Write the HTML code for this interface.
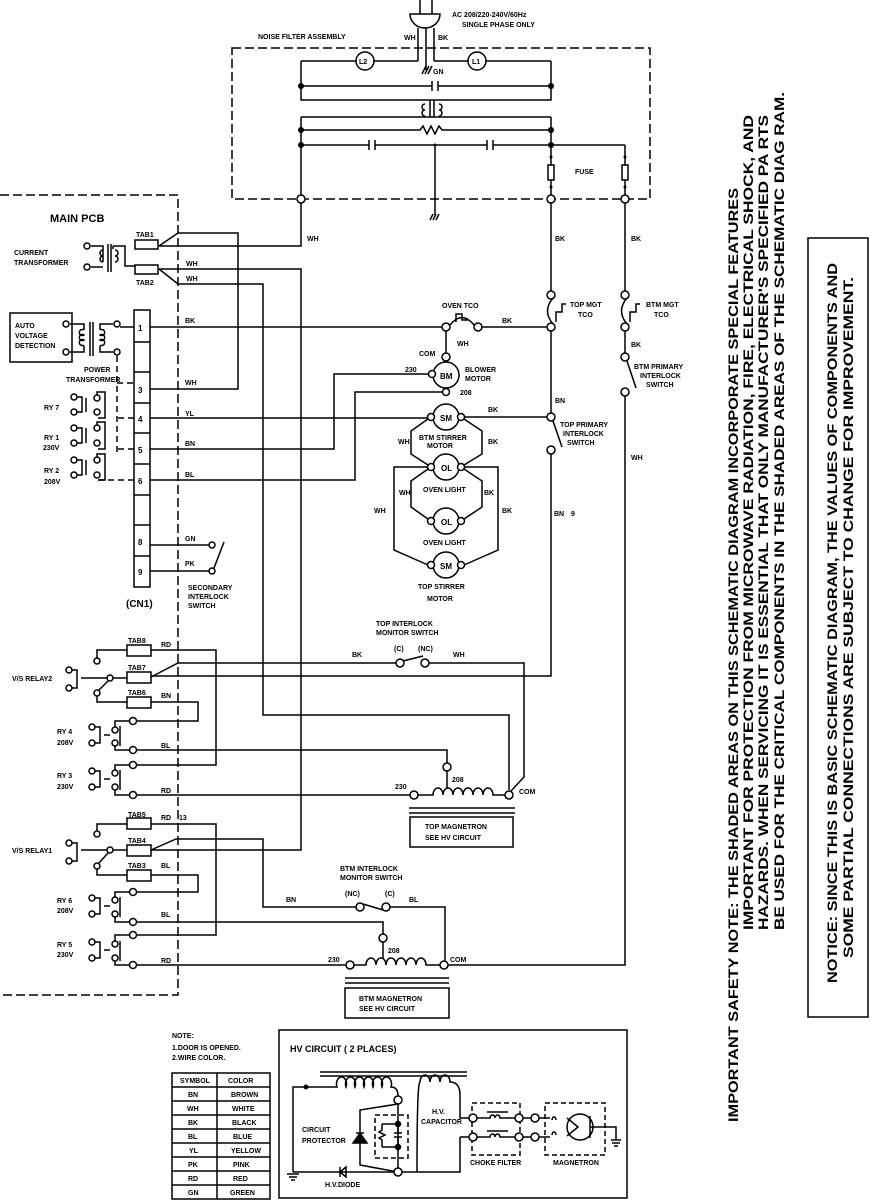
<!DOCTYPE html>
<html><head><meta charset="utf-8"><style>
html,body{margin:0;padding:0;background:#fff}
svg{display:block}
text{font-family:"Liberation Sans Narrow","Liberation Sans",sans-serif;font-weight:bold;fill:#000}
.s{font-size:7px}
.m{font-size:8px}
</style></head><body>
<svg width="870" height="1200" viewBox="0 0 870 1200" xmlns="http://www.w3.org/2000/svg">
<g fill="none" stroke="#000" stroke-width="1.5">
<rect x="232" y="48" width="418" height="151" stroke-dasharray="9,4" stroke-width="1.5"/>
<path d="M0,195 H178 V995 H0" stroke-dasharray="9,4" stroke-width="1.5"/>
<path d="M410,14 A15,14 0 0 0 440,14 Z" fill="#fff"/>
<path d="M420,0 V14 M432,0 V14 M418,28 V61 M434,28 V61 M426,28 V70"/>
<path d="M422,74 l4,-8 M425,74 l4,-8 M428,74 l4,-8"/>
<path d="M301,61 H356 M374,61 H418 M434,61 H468 M486,61 H551 M301,61 V100 H551 V61"/>
<circle cx="365" cy="61" r="9" fill="#fff"/><circle cx="477" cy="61" r="9" fill="#fff"/>
<path d="M301,86 H432 M438,86 H551 M432,81 V91 M438,81 V91"/>
<path d="M301,117 H551 M301,117 V199 M551,117 V199 M430,100 V117 M434,100 V117"/>
<path d="M425,104 a3,3 0 1 0 0,6 a3,3 0 1 0 0,6 M439,104 a3,3 0 1 1 0,6 a3,3 0 1 1 0,6"/>
<path d="M301,130 H420 l3,-4 l4,8 l4,-8 l4,8 l4,-8 l3,4 H551"/>
<path d="M301,145 H369 M375,145 H487 M493,145 H625 M369,140 V150 M375,140 V150 M487,140 V150 M493,140 V150"/>
<path d="M435,145 V215 M430,220 l3,-6 M433,220 l3,-6 M436,220 l3,-6"/>
<path d="M625,145 V199"/>
<rect x="548" y="165" width="6" height="15" fill="#fff"/><rect x="622" y="165" width="6" height="15" fill="#fff"/>
<circle cx="301" cy="199" r="4" fill="#fff"/><circle cx="551" cy="199" r="4" fill="#fff"/><circle cx="625" cy="199" r="4" fill="#fff"/>
<path d="M301,203 V246 H159 M159,246 L178,233 H238 V389 H150"/>
<path d="M159,269 H301 V850 H151 M159,269 L178,284 H263 V715 H509 V790"/>
<rect x="135" y="240" width="23" height="9" fill="#fff"/><rect x="135" y="265" width="23" height="9" fill="#fff"/>
<path d="M91,246 H103 V262 M91,267 H103 M113,246 H125 V266 H135 M113,246 V249 M108,244 V272 M111,244 V272"/>
<path d="M103,250 a3,3 0 1 0 0,6 a3,3 0 1 0 0,6 M115,250 a3,3 0 1 1 0,6 a3,3 0 1 1 0,6"/>
<circle cx="87" cy="246" r="3" fill="#fff"/><circle cx="87" cy="267" r="3" fill="#fff"/>
<rect x="10" y="313" width="62" height="49" stroke-width="1.5"/>
<path d="M70,324 H84 V330 M70,352 H84 V346 M113,324 H100 V330 M113,352 H100 V346 M90,322 V356 M93,322 V356"/>
<path d="M84,330 a3,3 0 1 0 0,5 a3,3 0 1 0 0,5 a3,3 0 1 0 0,5 M100,330 a3,3 0 1 1 0,5 a3,3 0 1 1 0,5 a3,3 0 1 1 0,5"/>
<circle cx="66" cy="324" r="3" fill="#fff"/><circle cx="66" cy="352" r="3" fill="#fff"/>
<circle cx="117" cy="324" r="3" fill="#fff"/><circle cx="117" cy="352" r="3" fill="#fff"/>
<path d="M120,327 H134"/>
<path d="M117,356 V455 M117,383 H134 M118,418 H134 M118,449 H134 M98,480 H134" stroke-dasharray="6,4"/>
<rect x="134" y="310" width="16" height="277" fill="#fff"/>
<path d="M134,342 H150 M134,372 H150 M134,403 H150 M134,433 H150 M134,464 H150 M134,495 H150 M134,525 H150 M134,556 H150"/>
<g>
<circle cx="74" cy="397" r="3" fill="#fff"/><circle cx="74" cy="412" r="3" fill="#fff"/>
<path d="M77,397 H82 V412 H77 M86,398 V412"/><circle cx="97" cy="398" r="3" fill="#fff"/><circle cx="97" cy="412" r="3" fill="#fff"/>
<path d="M97,395 V392 H105 V418 H98"/>
<circle cx="74" cy="428" r="3" fill="#fff"/><circle cx="74" cy="443" r="3" fill="#fff"/>
<path d="M77,428 H82 V443 H77 M86,428 V443"/><circle cx="97" cy="428" r="3" fill="#fff"/><circle cx="97" cy="443" r="3" fill="#fff"/>
<path d="M97,425 V422 H105 V449 H98"/>
<circle cx="74" cy="460" r="3" fill="#fff"/><circle cx="74" cy="475" r="3" fill="#fff"/>
<path d="M77,460 H82 V475 H77 M86,460 V475"/><circle cx="97" cy="460" r="3" fill="#fff"/><circle cx="97" cy="475" r="3" fill="#fff"/>
<path d="M97,457 V454 H105 V480 H98"/>
</g>
<path d="M150,327 H442 M150,418 H433 M150,449 H334 V374 H432 M150,480 H355 V392 H442 M150,545 H209 M150,571 H209"/>
<circle cx="212" cy="545" r="3" fill="#fff"/><circle cx="212" cy="571" r="3" fill="#fff"/><path d="M214,568 L224,542"/>
<circle cx="446" cy="327" r="4" fill="#fff"/><circle cx="478" cy="327" r="4" fill="#fff"/>
<path d="M450,325 Q462,310 474,325 M456,322 V314 H462 V320 H468 M482,327 H551"/>
<path d="M446,331 V353"/>
<circle cx="446" cy="357" r="4" fill="#fff"/>
<circle cx="446" cy="375" r="13" fill="#fff"/>
<circle cx="432" cy="374" r="3.5" fill="#fff"/><circle cx="446" cy="392" r="3.5" fill="#fff"/>
<circle cx="446" cy="417" r="13" fill="#fff"/>
<circle cx="431" cy="417" r="3.5" fill="#fff"/><circle cx="461" cy="417" r="3.5" fill="#fff"/>
<path d="M464,417 H547"/>
<path d="M428,419 L411,431 V454 L428,465 M464,419 L482,431 V454 L464,465"/>
<circle cx="446" cy="467" r="13" fill="#fff"/>
<circle cx="431" cy="467" r="3.5" fill="#fff"/><circle cx="461" cy="467" r="3.5" fill="#fff"/>
<path d="M428,469 L411,481 V507 L428,519 M464,469 L482,481 V507 L464,519"/>
<circle cx="446" cy="521" r="13" fill="#fff"/>
<circle cx="431" cy="521" r="3.5" fill="#fff"/><circle cx="461" cy="521" r="3.5" fill="#fff"/>
<path d="M428,467 H394 V550 L428,565 M464,467 H498 V550 L464,565"/>
<circle cx="446" cy="565" r="13" fill="#fff"/>
<circle cx="431" cy="565" r="3.5" fill="#fff"/><circle cx="461" cy="565" r="3.5" fill="#fff"/>
<path d="M551,203 V291 M551,331 V413"/>
<circle cx="551" cy="295" r="4" fill="#fff"/><circle cx="551" cy="327" r="4" fill="#fff"/>
<path d="M553,298 Q542,311 553,324 M556,322 V312 H562 V304 H566"/>
<circle cx="551" cy="417" r="4" fill="#fff"/><circle cx="551" cy="450" r="4" fill="#fff"/>
<path d="M553,421 L562,447 M551,454 V676 H151"/>
<path d="M625,203 V291 M625,331 V353 M625,396 V965 H448"/>
<circle cx="625" cy="295" r="4" fill="#fff"/><circle cx="625" cy="327" r="4" fill="#fff"/>
<path d="M627,298 Q616,311 627,324 M630,322 V312 H636 V304 H640"/>
<circle cx="625" cy="357" r="4" fill="#fff"/><circle cx="625" cy="392" r="4" fill="#fff"/>
<path d="M627,361 L636,388"/>
<path d="M151,677 L178,663 H396 M429,663 H524 V777 L511,791"/>
<circle cx="400" cy="663" r="4" fill="#fff"/><circle cx="425" cy="663" r="4" fill="#fff"/><path d="M403,661 L423,656"/>
<rect x="127" y="645" width="24" height="11" fill="#fff"/>
<rect x="127" y="672" width="24" height="11" fill="#fff"/>
<rect x="127" y="697" width="24" height="11" fill="#fff"/>
<circle cx="69" cy="670" r="3" fill="#fff"/><circle cx="69" cy="688" r="3" fill="#fff"/>
<path d="M72,670 H77 V688 H72 M81,678 H107"/>
<circle cx="97" cy="661" r="3" fill="#fff"/><circle cx="110" cy="678" r="3" fill="#fff"/><circle cx="97" cy="693" r="3" fill="#fff"/>
<path d="M97,658 V650 H127 M113,678 H127 M108,681 L99,690 M97,696 V702 H127"/>
<path d="M151,650 H216 V765 H136 M151,702 H198 V721 H136"/>
<circle cx="92" cy="727" r="3" fill="#fff"/><circle cx="92" cy="743" r="3" fill="#fff"/><path d="M95,727 H100 V743 H95 M104,735 H110"/>
<circle cx="115" cy="730" r="3" fill="#fff"/><circle cx="115" cy="743" r="3" fill="#fff"/>
<path d="M115,727 V721 H130 M115,746 V750 H130 M120,726 V746"/>
<circle cx="133" cy="721" r="3.5" fill="#fff"/><circle cx="133" cy="750" r="3.5" fill="#fff"/>
<path d="M137,750 H447 V763"/>
<circle cx="92" cy="771" r="3" fill="#fff"/><circle cx="92" cy="787" r="3" fill="#fff"/><path d="M95,771 H100 V787 H95 M104,779 H110"/>
<circle cx="115" cy="773" r="3" fill="#fff"/><circle cx="115" cy="787" r="3" fill="#fff"/>
<path d="M115,770 V765 H130 M115,790 V795 H130 M120,770 V790"/>
<circle cx="133" cy="765" r="3.5" fill="#fff"/><circle cx="133" cy="795" r="3.5" fill="#fff"/>
<path d="M137,795 H410"/>
<circle cx="414" cy="795" r="4" fill="#fff"/><circle cx="447" cy="767" r="4" fill="#fff"/><circle cx="509" cy="795" r="4" fill="#fff"/>
<path d="M418,795 H433 a5,7 0 1 1 10,0 a5,7 0 1 1 10,0 a5,7 0 1 1 10,0 a5,7 0 1 1 10,0 a5,7 0 1 1 10,0 a5,7 0 1 1 10,0 H505 M447,771 V789"/>
<path d="M409,808 H515 M409,813 H515"/>
<rect x="410" y="817" width="103" height="30"/>
<rect x="127" y="818" width="24" height="11" fill="#fff"/>
<rect x="127" y="845" width="24" height="11" fill="#fff"/>
<rect x="127" y="870" width="24" height="11" fill="#fff"/>
<circle cx="69" cy="843" r="3" fill="#fff"/><circle cx="69" cy="861" r="3" fill="#fff"/>
<path d="M72,843 H77 V861 H72 M81,850 H107"/>
<circle cx="97" cy="834" r="3" fill="#fff"/><circle cx="110" cy="850" r="3" fill="#fff"/><circle cx="97" cy="866" r="3" fill="#fff"/>
<path d="M97,831 V824 H127 M113,850 H127 M108,853 L99,863 M97,869 V875 H127"/>
<path d="M151,824 H216 V935 H136 M151,875 H198 V892 H136"/>
<path d="M151,850 L176,839 H263 V907 H356 M390,907 H445 V961"/>
<circle cx="360" cy="907" r="4" fill="#fff"/><circle cx="386" cy="907" r="4" fill="#fff"/><path d="M363,904 L383,910"/>
<circle cx="92" cy="898" r="3" fill="#fff"/><circle cx="92" cy="914" r="3" fill="#fff"/><path d="M95,898 H100 V914 H95 M104,906 H110"/>
<circle cx="115" cy="900" r="3" fill="#fff"/><circle cx="115" cy="914" r="3" fill="#fff"/>
<path d="M115,897 V892 H130 M115,917 V922 H130 M120,897 V917"/>
<circle cx="133" cy="892" r="3.5" fill="#fff"/><circle cx="133" cy="922" r="3.5" fill="#fff"/>
<path d="M137,922 H383 V934"/>
<circle cx="92" cy="942" r="3" fill="#fff"/><circle cx="92" cy="958" r="3" fill="#fff"/><path d="M95,942 H100 V958 H95 M104,950 H110"/>
<circle cx="115" cy="944" r="3" fill="#fff"/><circle cx="115" cy="958" r="3" fill="#fff"/>
<path d="M115,941 V935 H130 M115,961 V965 H130 M120,941 V961"/>
<circle cx="133" cy="935" r="3.5" fill="#fff"/><circle cx="133" cy="965" r="3.5" fill="#fff"/>
<path d="M137,965 H346"/>
<circle cx="350" cy="965" r="4" fill="#fff"/><circle cx="383" cy="938" r="4" fill="#fff"/><circle cx="444" cy="965" r="4" fill="#fff"/>
<path d="M354,965 H366 a5,7 0 1 1 10,0 a5,7 0 1 1 10,0 a5,7 0 1 1 10,0 a5,7 0 1 1 10,0 a5,7 0 1 1 10,0 a5,7 0 1 1 10,0 H440 M383,942 V958"/>
<path d="M345,978 H449 M345,983 H449"/>
<rect x="345" y="988" width="104" height="30"/>
<rect x="172" y="1073" width="98" height="126"/>
<path d="M217,1073 V1199 M172,1087 H270 M172,1101 H270 M172,1115 H270 M172,1129 H270 M172,1143 H270 M172,1157 H270 M172,1171 H270 M172,1185 H270"/>
<rect x="279" y="1030" width="348" height="168" stroke-width="1.5"/>
<path d="M320,1072 H467 M320,1076 H467"/>
<path d="M293,1172 V1087 H337 a5,7 0 1 1 9,0 a5,7 0 1 1 9,0 a5,7 0 1 1 9,0 a5,7 0 1 1 9,0 a5,7 0 1 1 9,0 a5,7 0 1 1 9,0 Q398,1087 398,1096"/>
<circle cx="306" cy="1087" r="1.8" fill="#000"/>
<circle cx="398" cy="1100" r="4" fill="#fff"/>
<path d="M398,1104 V1168 M398,1104 L360,1110 V1165 L398,1172"/>
<path d="M356,1133 H364 M353,1143 L360,1133 L367,1143 Z" fill="#000"/>
<rect x="375" y="1115" width="33" height="43" stroke-dasharray="5,3"/>
<circle cx="398" cy="1124" r="2.5" fill="#000"/><circle cx="398" cy="1147" r="2.5" fill="#000"/>
<path d="M382,1124 H398 M382,1147 H398 M382,1124 V1130 l-3,2 l6,3 l-6,3 l3,2 V1147 M398,1124 V1133 M394,1133 H402 M394,1137 H402 M398,1137 V1147"/>
<circle cx="398" cy="1172" r="4" fill="#fff"/>
<path d="M293,1172 H394 M340,1167 V1177 M340,1172 L346,1167 V1177 Z"/>
<path d="M287,1174 H299 M289,1177 H297 M291,1180 H295"/>
<path d="M417,1172 Q417,1082 420,1082 a5,7 0 1 1 10,0 a5,7 0 1 1 10,0 a5,7 0 1 1 10,0 Q460,1082 460,1095 V1118 H469 M460,1137 H469 M460,1137 V1172 H402"/>
<rect x="472" y="1103" width="48" height="52" stroke-dasharray="5,3"/>
<circle cx="473" cy="1118" r="4" fill="#fff"/><circle cx="473" cy="1137" r="4" fill="#fff"/>
<circle cx="519" cy="1118" r="4" fill="#fff"/><circle cx="519" cy="1137" r="4" fill="#fff"/>
<path d="M477,1118 H490 a2.5,3 0 1 1 5,0 a2.5,3 0 1 1 5,0 H515 M477,1137 H490 a2.5,3 0 1 1 5,0 a2.5,3 0 1 1 5,0 H515 M487,1112 H508 M487,1131 H508"/>
<path d="M523,1118 H531 M523,1137 H531"/>
<rect x="545" y="1103" width="60" height="52" stroke-dasharray="5,3"/>
<circle cx="535" cy="1118" r="4" fill="#fff"/><circle cx="535" cy="1137" r="4" fill="#fff"/>
<path d="M539,1118 H550 M539,1137 H550 M552,1120 a2,3 0 1 1 4,0 M552,1135 a2,3 0 1 1 4,0"/>
<circle cx="580" cy="1127" r="13"/>
<path d="M567,1118 L578,1127 L567,1136 M590,1116 V1138 M590,1127 H616 V1140 M611,1140 H621 M612,1143 H620 M614,1146 H618"/>
<rect x="808" y="238" width="60" height="779" stroke-width="1.5"/>
</g>
<g fill="#000">
<circle cx="301" cy="86" r="3"/><circle cx="551" cy="86" r="3"/>
<circle cx="301" cy="130" r="3"/><circle cx="551" cy="130" r="3"/>
<circle cx="301" cy="145" r="3"/><circle cx="551" cy="145" r="3"/>
<circle cx="435" cy="145" r="1.5"/>
<circle cx="551" cy="157" r="1.5"/><circle cx="625" cy="157" r="1.5"/>
<circle cx="551" cy="187" r="1.5"/><circle cx="625" cy="187" r="1.5"/>
</g>
<g class="s">
<text x="452" y="17">AC 208/220-240V/60Hz</text>
<text x="462" y="27">SINGLE PHASE ONLY</text>
<text x="258" y="39">NOISE FILTER ASSEMBLY</text>
<text x="404" y="40">WH</text><text x="438" y="40">BK</text>
<text x="433" y="74">GN</text>
<text x="359" y="64">L2</text><text x="472" y="64">L1</text>
<text x="575" y="174">FUSE</text>
<text x="307" y="241">WH</text><text x="555" y="241">BK</text><text x="631" y="241">BK</text>
<text x="136" y="237">TAB1</text><text x="136" y="285">TAB2</text>
<text x="14" y="255">CURRENT</text><text x="14" y="265">TRANSFORMER</text>
<text x="186" y="266">WH</text><text x="186" y="281">WH</text>
<text x="15" y="328">AUTO</text><text x="15" y="338">VOLTAGE</text><text x="15" y="348">DETECTION</text>
<text x="84" y="372">POWER</text><text x="66" y="382">TRANSFORMER</text>
<text x="44" y="410">RY 7</text>
<text x="44" y="440">RY 1</text><text x="43" y="450">230V</text>
<text x="44" y="473">RY 2</text><text x="44" y="484">208V</text>
<text x="185" y="323">BK</text><text x="185" y="385">WH</text><text x="185" y="416">YL</text>
<text x="185" y="446">BN</text><text x="185" y="477">BL</text><text x="185" y="541">GN</text><text x="185" y="566">PK</text>
<text x="188" y="590">SECONDARY</text><text x="188" y="599">INTERLOCK</text><text x="188" y="608">SWITCH</text>
<text x="442" y="308">OVEN TCO</text>
<text x="502" y="323">BK</text>
<text x="457" y="346">WH</text>
<text x="419" y="356">COM</text>
<text x="405" y="372">230</text>
<text x="460" y="395">208</text>
<text x="465" y="372">BLOWER</text><text x="465" y="381">MOTOR</text>
<text x="488" y="412">BK</text>
<text x="398" y="444">WH</text><text x="488" y="444">BK</text>
<text x="419" y="440">BTM STIRRER</text><text x="427" y="448">MOTOR</text>
<text x="399" y="495">WH</text><text x="484" y="495">BK</text>
<text x="374" y="513">WH</text><text x="502" y="513">BK</text>
<text x="423" y="492">OVEN LIGHT</text><text x="423" y="545">OVEN LIGHT</text>
<text x="418" y="589">TOP STIRRER</text><text x="427" y="601">MOTOR</text>
<text x="570" y="307">TOP MGT</text><text x="578" y="317">TCO</text>
<text x="646" y="307">BTM MGT</text><text x="654" y="317">TCO</text>
<text x="634" y="369">BTM PRIMARY</text><text x="640" y="378">INTERLOCK</text><text x="646" y="387">SWITCH</text>
<text x="555" y="403">BN</text>
<text x="560" y="427">TOP PRIMARY</text><text x="563" y="436">INTERLOCK</text><text x="567" y="445">SWITCH</text>
<text x="554" y="516">BN</text><text x="571" y="516">9</text>
<text x="631" y="460">WH</text><text x="631" y="347">BK</text>
<text x="376" y="626">TOP INTERLOCK</text><text x="376" y="635">MONITOR SWITCH</text>
<text x="352" y="657">BK</text><text x="394" y="651">(C)</text><text x="418" y="651">(NC)</text><text x="453" y="657">WH</text>
<text x="128" y="643">TAB8</text><text x="128" y="670">TAB7</text><text x="128" y="695">TAB6</text>
<text x="161" y="647">RD</text><text x="161" y="698">BN</text><text x="161" y="748">BL</text><text x="161" y="793">RD</text>
<text x="12" y="681">V/S RELAY2</text>
<text x="57" y="734">RY 4</text><text x="57" y="745">208V</text>
<text x="57" y="778">RY 3</text><text x="57" y="789">230V</text>
<text x="395" y="789">230</text><text x="452" y="782">208</text><text x="519" y="794">COM</text>
<text x="425" y="829">TOP MAGNETRON</text><text x="425" y="840">SEE HV CIRCUIT</text>
<text x="128" y="817">TAB5</text><text x="128" y="843">TAB4</text><text x="128" y="868">TAB3</text>
<text x="161" y="820">RD</text><text x="179" y="820">13</text><text x="161" y="868">BL</text><text x="161" y="917">BL</text><text x="161" y="963">RD</text>
<text x="12" y="853">V/S RELAY1</text>
<text x="57" y="903">RY 6</text><text x="57" y="913">208V</text>
<text x="57" y="947">RY 5</text><text x="57" y="957">230V</text>
<text x="340" y="871">BTM INTERLOCK</text><text x="340" y="880">MONITOR SWITCH</text>
<text x="345" y="896">(NC)</text><text x="385" y="896">(C)</text><text x="286" y="902">BN</text><text x="409" y="902">BL</text>
<text x="328" y="962">230</text><text x="388" y="953">208</text><text x="450" y="962">COM</text>
<text x="359" y="1001">BTM MAGNETRON</text><text x="359" y="1011">SEE HV CIRCUIT</text>
<text x="172" y="1038">NOTE:</text><text x="172" y="1050">1.DOOR IS OPENED.</text><text x="172" y="1060">2.WIRE COLOR.</text>
<text x="180" y="1083">SYMBOL</text><text x="228" y="1083">COLOR</text>
<text x="188" y="1097">BN</text><text x="231" y="1097">BROWN</text>
<text x="187" y="1111">WH</text><text x="232" y="1111">WHITE</text>
<text x="188" y="1125">BK</text><text x="232" y="1125">BLACK</text>
<text x="188" y="1139">BL</text><text x="233" y="1139">BLUE</text>
<text x="189" y="1153">YL</text><text x="231" y="1153">YELLOW</text>
<text x="188" y="1167">PK</text><text x="233" y="1167">PINK</text>
<text x="188" y="1181">RD</text><text x="233" y="1181">RED</text>
<text x="188" y="1195">GN</text><text x="230" y="1195">GREEN</text>
<text x="302" y="1132">CIRCUIT</text><text x="302" y="1143">PROTECTOR</text>
<text x="432" y="1114">H.V.</text><text x="421" y="1124">CAPACITOR</text>
<text x="470" y="1165">CHOKE FILTER</text><text x="553" y="1165">MAGNETRON</text>
<text x="325" y="1187">H.V.DIODE</text>
</g>
<text x="50" y="222" style="font-size:11px">MAIN PCB</text>
<text x="138" y="331" class="m">1</text><text x="138" y="393" class="m">3</text><text x="138" y="422" class="m">4</text>
<text x="138" y="453" class="m">5</text><text x="138" y="484" class="m">6</text><text x="138" y="545" class="m">8</text><text x="138" y="575" class="m">9</text>
<text x="126" y="607" style="font-size:10px">(CN1)</text>
<text x="440" y="379" class="m">BM</text><text x="440" y="421" class="m">SM</text><text x="441" y="471" class="m">OL</text><text x="441" y="525" class="m">OL</text><text x="440" y="569" class="m">SM</text>
<text x="290" y="1052" style="font-size:9px">HV CIRCUIT ( 2 PLACES)</text>
<g style="font-size:14px">
<text transform="rotate(-90)" x="-1122" y="738" textLength="934" lengthAdjust="spacingAndGlyphs">IMPORTANT SAFETY NOTE: THE SHADED AREAS ON THIS SCHEMATIC DIAGRAM INCORPORATE SPECIAL FEATURES</text>
<text transform="rotate(-90)" x="-930" y="753" textLength="815" lengthAdjust="spacingAndGlyphs">IMPORTANT FOR PROTECTION FROM MICROWAVE RADIATION,  FIRE,  ELECTRICAL SHOCK,  AND</text>
<text transform="rotate(-90)" x="-930" y="768" textLength="815" lengthAdjust="spacingAndGlyphs">HAZARDS. WHEN SERVICING IT IS ESSENTIAL THAT ONLY MANUFACTURER'S SPECIFIED PA RTS</text>
<text transform="rotate(-90)" x="-930" y="784" textLength="838" lengthAdjust="spacingAndGlyphs">BE USED FOR THE CRITICAL COMPONENTS IN THE SHADED AREAS OF THE SCHEMATIC DIAG RAM.</text>
<text transform="rotate(-90)" x="-983" y="837" textLength="720" lengthAdjust="spacingAndGlyphs">NOTICE: SINCE THIS IS BASIC SCHEMATIC DIAGRAM, THE VALUES OF COMPONENTS AND</text>
<text transform="rotate(-90)" x="-958" y="853" textLength="681" lengthAdjust="spacingAndGlyphs">SOME PARTIAL CONNECTIONS ARE SUBJECT TO CHANGE FOR IMPROVEMENT.</text>
</g>
</svg>
</body></html>
